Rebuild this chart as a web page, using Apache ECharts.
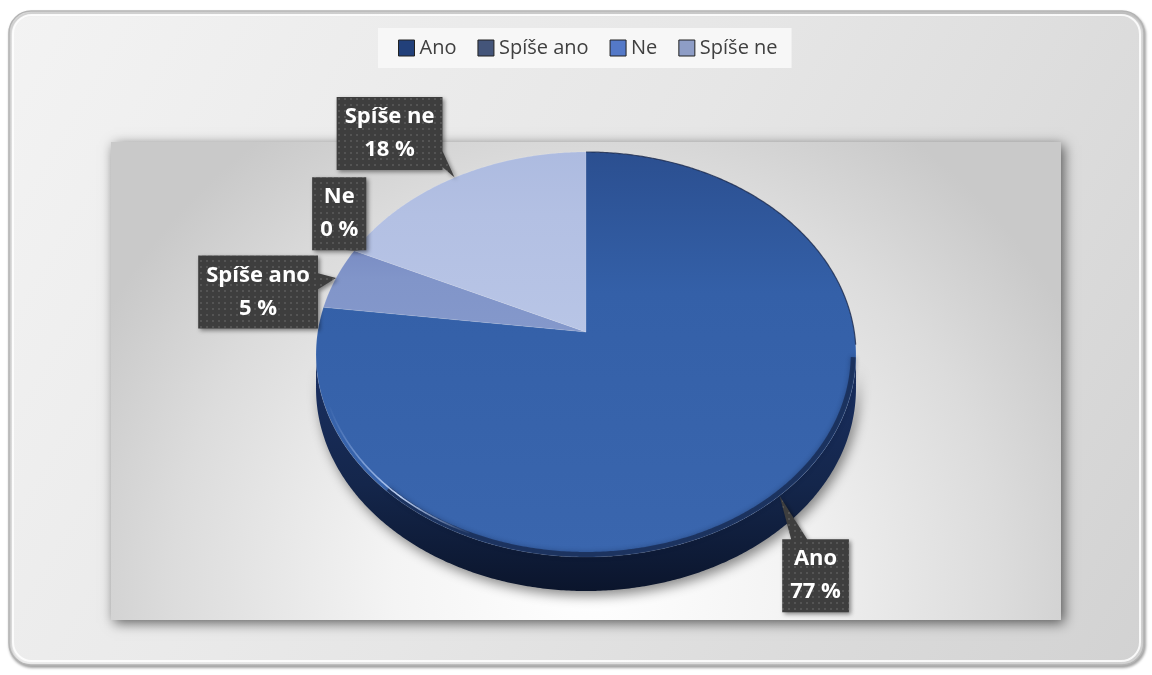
<!DOCTYPE html>
<html>
<head>
<meta charset="utf-8">
<script src="https://cdn.jsdelivr.net/npm/echarts@6/dist/echarts.min.js"></script>
<style>
  html, body { margin: 0; padding: 0; background: #ffffff; }
  #chart { width: 1152px; height: 675px; }
</style>
</head>
<body>
<div id="chart"></div>
<script>
// Survey answers and their shares (percent)
const categories = ['Ano', 'Spíše ano', 'Ne', 'Spíše ne'];
const shares = [77, 5, 0, 18];

// Styling per answer
const faceColors = [
  ['#2b4f90', '#3460a8', '#3a66ae'],
  ['#7a8dc4', '#8195c9', '#8498cb'],
  ['#6f8bd0', '#7592d4', '#7a96d6'],
  ['#adbbe0', '#b3c0e3', '#b8c5e6']
];
const legendColors = ['#22407a', '#44557a', '#5479c8', '#8e9dc6'];
// Callout box placement relative to the rim point of each slice
const labelOffsets = [[36, 80], [-78, 14], [-15, -37], [-65, -44]];

// Tilted-disc geometry (perspective projection of a flat circle)
const PIE = { cx: 586 / 1152, cy: 332 / 675, a: 268.3, b: 200, q: 0.1111, depth: 34 };
const FONT = 'bold 22px "Open Sans"';

const total = shares.reduce((s, v) => s + v, 0);
const starts = shares.map((_, i) => shares.slice(0, i).reduce((s, v) => s + v, 0));

function project(api, frac, r, dy) {
  const th = frac * Math.PI * 2;
  const u = r * Math.sin(th), v = -r * Math.cos(th);
  const w = 1 - PIE.q * v;
  return [PIE.cx * api.getWidth() + PIE.a * u / w,
          PIE.cy * api.getHeight() + PIE.b * v / w + (dy || 0)];
}
function arc(api, f0, f1, r, dy) {
  const pts = [];
  const n = Math.max(2, Math.ceil(Math.abs(f1 - f0) * 720));
  for (let k = 0; k <= n; k++) pts.push(project(api, f0 + (f1 - f0) * k / n, r, dy));
  return pts;
}

// Visible side wall spans between the two vertical tangents of the disc
const tangent = Math.acos(-PIE.q) / (Math.PI * 2);

function sideItem(params, api) {
  const front = arc(api, tangent, 1 - tangent, 1, 0);
  const back = arc(api, 1 - tangent, tangent, 1, PIE.depth);
  return {
    type: 'group',
    children: [{
      type: 'polygon',
      shape: { points: front.concat(back) },
      style: {
        fill: new echarts.graphic.LinearGradient(0, 0, 0, 1, [
          { offset: 0, color: '#1a3063' },
          { offset: 0.55, color: '#14264b' },
          { offset: 1, color: '#0b152c' }
        ]),
        shadowBlur: 12, shadowColor: 'rgba(0,0,0,0.45)', shadowOffsetX: 3, shadowOffsetY: 5
      }
    }]
  };
}

function sliceItem(idx) {
  return function (params, api) {
    const v = api.value(0);
    if (!(v > 0)) return { type: 'group', children: [] };
    const f0 = starts[idx] / total, f1 = (starts[idx] + v) / total;
    const pts = [project(api, 0, 0, 0)].concat(arc(api, f0, f1, 1, 0));
    const c = faceColors[idx];
    return {
      type: 'polygon',
      shape: { points: pts },
      style: {
        fill: new echarts.graphic.LinearGradient(0, 0, 0, 1, [
          { offset: 0, color: c[0] }, { offset: 0.35, color: c[1] }, { offset: 1, color: c[2] }
        ]),
        stroke: 'rgba(255,255,255,0.18)', lineWidth: 0.6
      }
    };
  };
}

function rimItem(params, api) {
  return {
    type: 'group',
    children: [
      { // soft dark edge where the top meets the wall
        type: 'polyline',
        shape: { points: arc(api, 0.27, 0.62, 0.99, 0) },
        style: { stroke: 'rgba(12,24,52,0.55)', lineWidth: 5, fill: null, shadowBlur: 5, shadowColor: 'rgba(12,24,52,0.6)' }
      },
      { // bevel highlight on the front-left rim
        type: 'polyline',
        shape: { points: arc(api, 0.565, 0.69, 0.985, 0) },
        style: {
          fill: null, lineWidth: 1.6,
          stroke: new echarts.graphic.LinearGradient(0, 0, 1, 0, [
            { offset: 0, color: 'rgba(190,212,255,0)' },
            { offset: 0.5, color: 'rgba(200,220,255,0.95)' },
            { offset: 1, color: 'rgba(190,212,255,0)' }
          ])
        }
      },
      { // thin dark outline on the back rim
        type: 'polyline',
        shape: { points: arc(api, 0.0, 0.26, 1, 0) },
        style: { stroke: 'rgba(18,32,68,0.75)', lineWidth: 1.2, fill: null }
      }
    ]
  };
}

// Dotted texture for the callout boxes
const dotTile = document.createElement('canvas');
dotTile.width = 6; dotTile.height = 6;
(function () {
  const g = dotTile.getContext('2d');
  g.fillStyle = '#3e3e3e'; g.fillRect(0, 0, 6, 6);
  g.fillStyle = '#545454'; g.fillRect(2, 2, 2, 2);
})();

const measureCtx = document.createElement('canvas').getContext('2d');
function textWidth(s) { measureCtx.font = FONT; return measureCtx.measureText(s).width; }

function calloutPoints(x0, y0, x1, y1, tx, ty) {
  const cx = (x0 + x1) / 2, cy = (y0 + y1) / 2, hw = (x1 - x0) / 2, hh = (y1 - y0) / 2;
  const dx = tx - cx, dy = ty - cy, half = 8, m = 3;
  const clampX = v => Math.max(x0 + half + m, Math.min(x1 - half - m, v));
  const clampY = v => Math.max(y0 + half + m, Math.min(y1 - half - m, v));
  const edge = Math.abs(dx) / hw > Math.abs(dy) / hh ? (dx > 0 ? 'right' : 'left') : (dy > 0 ? 'bottom' : 'top');
  const p = [[x0, y0]];
  if (edge === 'top') { const bx = clampX(cx - dx * hh / dy); p.push([bx - half, y0], [tx, ty], [bx + half, y0]); }
  p.push([x1, y0]);
  if (edge === 'right') { const by = clampY(cy + dy * hw / dx); p.push([x1, by - half], [tx, ty], [x1, by + half]); }
  p.push([x1, y1]);
  if (edge === 'bottom') { const bx = clampX(cx + dx * hh / dy); p.push([bx + half, y1], [tx, ty], [bx - half, y1]); }
  p.push([x0, y1]);
  if (edge === 'left') { const by = clampY(cy - dy * hw / dx); p.push([x0, by + half], [tx, ty], [x0, by - half]); }
  return p;
}

function labelItem(params, api) {
  const i = api.value(0), v = api.value(1);
  const f = (starts[i] + v / 2) / total;
  const tip = project(api, f, 1, 0);
  const name = categories[i], val = v + ' %';
  const w = Math.max(textWidth(name), textWidth(val)) + 16, h = 73;
  const cx = tip[0] + labelOffsets[i][0], cy = tip[1] + labelOffsets[i][1];
  const x0 = cx - w / 2, y0 = cy - h / 2;
  return {
    type: 'group',
    children: [{
      type: 'polygon',
      shape: { points: calloutPoints(x0, y0, x0 + w, y0 + h, tip[0], tip[1]) },
      style: {
        fill: { image: dotTile, repeat: 'repeat' },
        shadowBlur: 4, shadowColor: 'rgba(0,0,0,0.45)', shadowOffsetX: 2, shadowOffsetY: 2
      }
    }, {
      type: 'text',
      x: cx, y: cy,
      style: {
        text: name + '\n' + val, font: FONT, fill: '#ffffff',
        align: 'center', verticalAlign: 'middle', lineHeight: 33
      }
    }]
  };
}

const chart = echarts.init(document.getElementById('chart'), null, { renderer: 'canvas' });

const series = [{
  type: 'custom', name: 'side', coordinateSystem: 'none', z: 2, silent: true,
  data: [[total]], renderItem: sideItem
}];
categories.forEach((name, i) => {
  series.push({
    type: 'custom', name: name, coordinateSystem: 'none', z: 3, silent: true,
    itemStyle: { color: legendColors[i] },
    data: [[shares[i]]], renderItem: sliceItem(i)
  });
});
series.push({
  type: 'custom', name: 'rim', coordinateSystem: 'none', z: 4, silent: true,
  data: [[total]], renderItem: rimItem
});
series.push({
  type: 'custom', name: 'labels', coordinateSystem: 'none', z: 5, silent: true,
  data: categories.map((_, i) => [i, shares[i]]), renderItem: labelItem
});

chart.setOption({
  animation: false,
  graphic: [
    {
      type: 'rect', z: 0,
      shape: { x: 9, y: 11, width: 1135, height: 654, r: 22 },
      style: {
        fill: new echarts.graphic.LinearGradient(0, 0, 1, 1, [
          { offset: 0, color: '#f3f3f3' }, { offset: 0.5, color: '#e6e6e6' }, { offset: 1, color: '#d2d2d2' }
        ]),
        stroke: '#b4b4b4', lineWidth: 1.5,
        shadowBlur: 3, shadowColor: 'rgba(0,0,0,0.35)', shadowOffsetX: 1, shadowOffsetY: 2
      }
    },
    {
      type: 'rect', z: 0,
      shape: { x: 13, y: 15, width: 1127, height: 646, r: 19 },
      style: { fill: null, stroke: 'rgba(255,255,255,0.85)', lineWidth: 2 }
    },
    {
      type: 'rect', z: 1,
      shape: { x: 111, y: 142, width: 950, height: 478 },
      style: {
        fill: new echarts.graphic.RadialGradient(0.5, 0.92, 1.15, [
          { offset: 0, color: '#ffffff' }, { offset: 0.35, color: '#f4f4f4' },
          { offset: 0.75, color: '#dcdcdc' }, { offset: 1, color: '#c9c9c9' }
        ]),
        shadowBlur: 12, shadowColor: 'rgba(0,0,0,0.6)', shadowOffsetX: 3, shadowOffsetY: 3
      }
    }
  ],
  legend: {
    data: categories,
    top: 28, left: 378,
    backgroundColor: '#f7f7f7',
    padding: [10, 14, 10, 20],
    itemGap: 21, itemWidth: 16, itemHeight: 16, icon: 'rect',
    itemStyle: { borderColor: '#222222', borderWidth: 1 },
    textStyle: { fontFamily: 'Open Sans', fontSize: 20, color: '#404040' },
    selectedMode: false
  },
  series: series
});
</script>
</body>
</html>
